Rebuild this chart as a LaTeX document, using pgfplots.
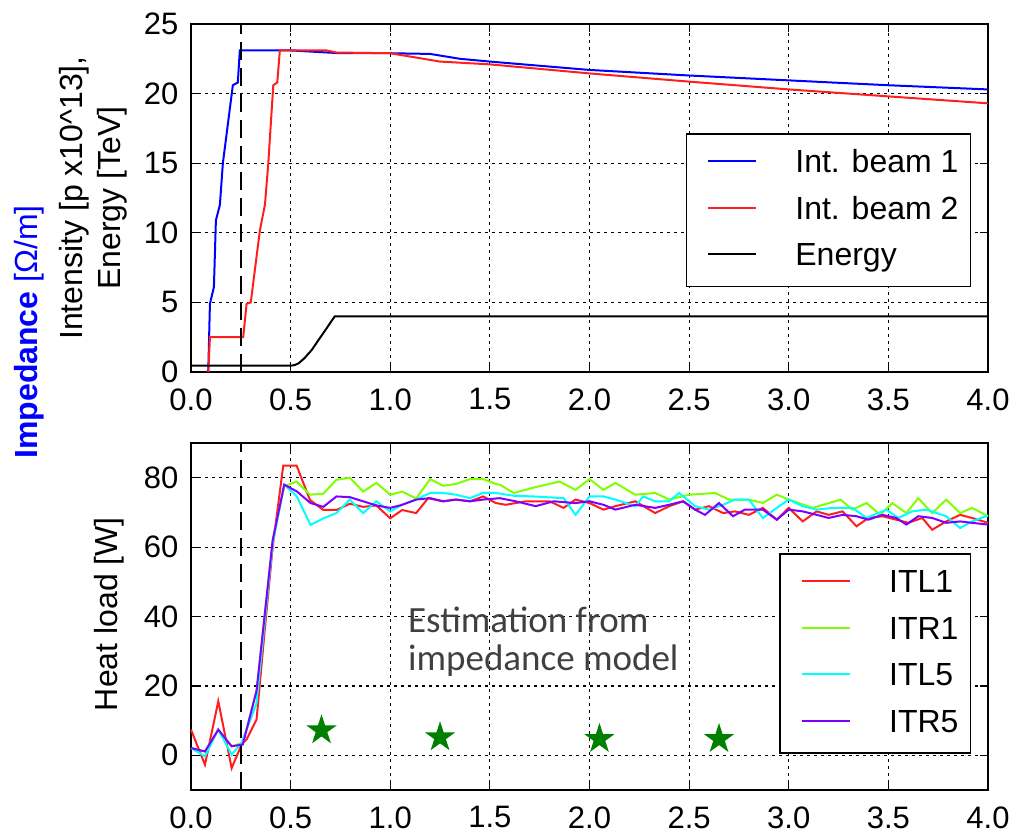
\documentclass[border=0pt]{standalone}
\usepackage{pgfplots}
\pgfplotsset{compat=1.18}
\usepackage{fontspec}
\setmainfont{Liberation Sans}
\newfontfamily\calfont{Carlito}
\definecolor{cgreen}{RGB}{128,255,0}
\definecolor{cviolet}{RGB}{128,0,255}
\definecolor{cred}{RGB}{255,30,30}
\definecolor{ccyan}{RGB}{0,255,255}
\definecolor{dkgreen}{RGB}{0,128,0}
\definecolor{txtgray}{RGB}{64,64,64}
\pgfdeclareplotmark{fstar}{%
\pgfpathmoveto{\pgfpointpolar{90}{\pgfplotmarksize}}%
\pgfpathlineto{\pgfpointpolar{126}{0.382\pgfplotmarksize}}%
\pgfpathlineto{\pgfpointpolar{162}{\pgfplotmarksize}}%
\pgfpathlineto{\pgfpointpolar{198}{0.382\pgfplotmarksize}}%
\pgfpathlineto{\pgfpointpolar{234}{\pgfplotmarksize}}%
\pgfpathlineto{\pgfpointpolar{270}{0.382\pgfplotmarksize}}%
\pgfpathlineto{\pgfpointpolar{306}{\pgfplotmarksize}}%
\pgfpathlineto{\pgfpointpolar{342}{0.382\pgfplotmarksize}}%
\pgfpathlineto{\pgfpointpolar{18}{\pgfplotmarksize}}%
\pgfpathlineto{\pgfpointpolar{54}{0.382\pgfplotmarksize}}%
\pgfpathclose\pgfusepathqfill}
\pgfplotsset{
  common/.style={
    scale only axis, width=398.5pt, clip=false,
    xmin=0, xmax=4,
    xtick={0,0.5,...,4},
    xticklabel style={/pgf/number format/fixed, /pgf/number format/fixed zerofill, /pgf/number format/precision=1, yshift=-4.8pt},
    /pgf/number format/assume math mode=true,
    tick pos=both, tick align=inside, major tick length=4pt,
    tick style={black, line width=0.6pt},
    axis line style={black, line width=0.8pt},
    grid=major,
    major grid style={black, line width=0.6pt, dash pattern=on 1.5pt off 2pt},
    ticklabel style={font=\fontsize{15.5}{18}\selectfont},
    yticklabel style={xshift=-2.8pt},
    label style={font=\fontsize{16}{19}\selectfont},
    legend cell align=left,
    legend style={font=\fontsize{16}{19}\selectfont, draw=black, line width=0.8pt,
      inner xsep=6pt, inner ysep=7.75pt, row sep=9.4pt,
      nodes={inner sep=0pt, text height=11.5pt, text depth=2.5pt},
      /tikz/every odd column/.append style={column sep=19pt}},
    legend image code/.code={\path (0pt,0pt); \draw[#1, line width=1pt] (4.5pt,1.25pt) -- (28.5pt,1.25pt);},
  }
}
\begin{document}
\begin{tikzpicture}
\begin{axis}[common, at={(0,0)}, height=174pt,
  ymin=0, ymax=25, ytick={0,5,...,25},
  ylabel={Intensity [p x10\textasciicircum13],\\Energy [TeV]},
  ylabel style={align=center, at={(axis description cs:-0.123,0.5)}, anchor=center},
  legend style={at={(rel axis cs:0.979,0.687)}, anchor=north east},
]
\addplot[blue, line width=1pt] coordinates {
(0.085,0) (0.087,0.2) (0.095,4.9) (0.115,6.1) (0.125,10.9) (0.145,12.0) (0.16,15.0)
(0.21,20.6) (0.235,20.8) (0.245,23.1) (0.5,23.1) (0.75,22.9) (1.0,22.9) (1.2,22.85)
(1.35,22.5) (1.5,22.3) (2.0,21.7) (2.5,21.3) (3.0,20.95) (3.5,20.6) (4.0,20.3)};
\addlegendentry{Int. beam 1}
\addplot[cred, line width=1pt] coordinates {
(0.087,0) (0.095,2.5) (0.262,2.5) (0.279,4.9) (0.30,5.0) (0.346,10.2) (0.371,12.0)
(0.388,15.0) (0.413,20.6) (0.433,20.8) (0.446,23.1) (0.68,23.1) (0.73,22.95) (1.0,22.9)
(1.25,22.3) (1.5,22.1) (2.0,21.45) (2.5,20.86) (3.0,20.3) (3.5,19.8) (4.0,19.3)};
\addlegendentry{Int. beam 2}
\addplot[black, line width=1pt] coordinates {
(0,0.45) (0.5,0.45) (0.52,0.5) (0.54,0.62) (0.57,1.0) (0.607,1.6) (0.64,2.3)
(0.674,3.0) (0.707,3.7) (0.722,4.0) (4.0,4.0)};
\addlegendentry{Energy}
\addplot[black, line width=0.75pt, dash pattern=on 9pt off 4pt, forget plot] coordinates {(0.25,0) (0.25,25)};
\end{axis}
\begin{axis}[common, at={(0,-209pt)}, height=173.5pt,
  ymin=-10, ymax=90, ytick={0,20,...,80},
  ylabel={Heat load [W]},
  ylabel style={at={(axis description cs:-0.103,0.507)}, anchor=center},
  legend style={at={(rel axis cs:0.979,0.683)}, anchor=north east},
]
\addplot[cred, line width=1pt] coordinates {
(0,7.4) (0.07,-2.7) (0.137,15.6) (0.204,-3.7) (0.254,3.1) (0.279,4.6) (0.329,10.3)
(0.37,36) (0.41,60) (0.463,83.5) (0.53,83.5) (0.597,73.6) (0.664,70.7) (0.73,70.7)
(0.797,72.5) (0.864,71.6) (0.93,72) (1.0,68.3) (1.06,70.7) (1.13,69.8) (1.19,74.1)
(1.265,73.2) (1.33,73.7) (1.40,73.2) (1.466,74.6) (1.53,72.7) (1.58,72.2) (1.68,73.2)
(1.8,73.2) (1.87,71.3) (1.93,73.7) (2.0,72.7) (2.07,70.8) (2.13,71.8) (2.23,73.2)
(2.33,69.8) (2.40,71.8) (2.47,73.2) (2.53,70.8) (2.6,71.8) (2.67,69.8) (2.73,70.3)
(2.8,69.3) (2.87,71.3) (2.94,67.9) (3.0,71.3) (3.07,67.4) (3.14,70.3) (3.2,69.3)
(3.27,70.3) (3.34,66.0) (3.4,68.4) (3.47,68.9) (3.54,67.9) (3.6,67.0) (3.67,68.4)
(3.72,65.0) (3.79,67.4) (3.86,69.3) (3.92,68.4) (4.0,67.0)};
\addlegendentry{ITL1}
\addplot[cgreen, line width=1pt] coordinates {
(0,2.1) (0.07,1.1) (0.137,7.4) (0.204,2.6) (0.26,3.6) (0.329,18.6) (0.369,40) (0.41,62)
(0.468,77.5) (0.53,78.9) (0.597,75.1) (0.664,75.4) (0.73,79.4) (0.797,80) (0.864,76.0)
(0.93,78.5) (1.0,75.1) (1.06,76) (1.13,74) (1.2,79.6) (1.265,77.7) (1.33,78.2) (1.40,79.6)
(1.466,79.6) (1.53,78.2) (1.55,78.0) (1.62,75.6) (1.73,77.3) (1.85,78.9) (1.93,76.5)
(2.0,79.6) (2.07,76.5) (2.13,78.5) (2.23,75.1) (2.33,75.6) (2.40,73.7) (2.5,75.1)
(2.63,75.6) (2.7,73.7) (2.8,73.7) (2.87,72.7) (2.94,75.1) (3.0,73.7) (3.12,71.3)
(3.26,73.7) (3.32,70.8) (3.39,72.7) (3.46,69.3) (3.52,72.7) (3.59,69.8) (3.65,74.1)
(3.72,69.8) (3.79,73.7) (3.86,69.8) (3.92,71.3) (4.0,68.9)};
\addlegendentry{ITR1}
\addplot[ccyan, line width=1pt] coordinates {
(0,2.1) (0.07,-0.3) (0.137,7.4) (0.204,0.2) (0.254,3.6) (0.329,15) (0.369,38) (0.41,61)
(0.468,78) (0.53,74.7) (0.6,66.4) (0.664,68.3) (0.73,69.8) (0.797,73.7) (0.864,69.8)
(0.93,73.2) (1.0,70.3) (1.06,72.2) (1.13,73.7) (1.2,75.6) (1.265,75.6) (1.33,75.1)
(1.4,74.1) (1.466,75.6) (1.53,75.6) (1.62,74.8) (1.72,74.6) (1.87,74.1) (1.93,69.3)
(2.0,74.6) (2.07,74.6) (2.13,73.7) (2.23,71.8) (2.27,74.6) (2.33,73.2) (2.40,73.2)
(2.45,75.6) (2.53,71.8) (2.6,70.8) (2.67,72.2) (2.73,73.7) (2.8,73.7) (2.87,68.4)
(2.94,71.3) (3.0,73.7) (3.07,71.8) (3.14,70.8) (3.22,71.3) (3.32,71.3) (3.39,68.4)
(3.49,70.8) (3.55,68.4) (3.62,70.3) (3.69,70.8) (3.79,68.9) (3.86,65.5) (3.92,67.4)
(4.0,69.1)};
\addlegendentry{ITL5}
\addplot[cviolet, line width=1pt] coordinates {
(0,2.1) (0.07,1.1) (0.137,7.4) (0.204,2.6) (0.26,3.1) (0.329,18.6) (0.369,40) (0.41,62)
(0.468,78) (0.53,76.1) (0.6,72.7) (0.664,71.6) (0.73,74.6) (0.797,74.4) (0.864,73.2)
(0.93,72) (1.0,71.3) (1.06,72.2) (1.13,73.7) (1.2,74.1) (1.265,73.2) (1.33,73.7)
(1.4,73.2) (1.466,73.7) (1.55,74.1) (1.63,73.2) (1.73,71.8) (1.82,73.2) (1.93,72.7)
(2.0,73.2) (2.07,72.2) (2.13,70.8) (2.23,72.2) (2.33,71.3) (2.40,72.2) (2.47,73.2)
(2.53,70.8) (2.58,69.3) (2.65,72.7) (2.72,68.9) (2.78,70.8) (2.87,70.8) (2.94,67.9)
(3.0,70.8) (3.07,70.3) (3.14,69.3) (3.2,68.4) (3.27,69.3) (3.34,68.9) (3.4,67.9)
(3.47,69.3) (3.54,68.4) (3.59,66.5) (3.65,68.9) (3.72,68.4) (3.79,67.0) (3.86,67.4)
(3.92,67.0) (4.0,66.5)};
\addlegendentry{ITR5}
\addplot[black, line width=0.75pt, dash pattern=on 9pt off 4pt, forget plot] coordinates {(0.25,-10) (0.25,90)};
\addplot[only marks, mark=fstar, mark size=8pt, color=dkgreen, forget plot] coordinates {
(0.655,7.2) (1.25,5.2) (2.05,4.7) (2.65,4.7)};
\node[anchor=base west, align=left, text=txtgray, inner sep=0pt,
  font=\calfont\fontsize{18.5}{19}\selectfont] at (axis cs:1.088,24.4)
  {Estimation from\\impedance model};
\end{axis}
\node[rotate=90, anchor=center, font=\fontsize{16}{19}\selectfont, text=blue] at (-81pt,20pt)
  {\textbf{Impedance} [Ω/m]};
\pgfresetboundingbox
\useasboundingbox (-95.5pt,-231.5pt) rectangle (411pt,186pt);
\end{tikzpicture}
\end{document}
